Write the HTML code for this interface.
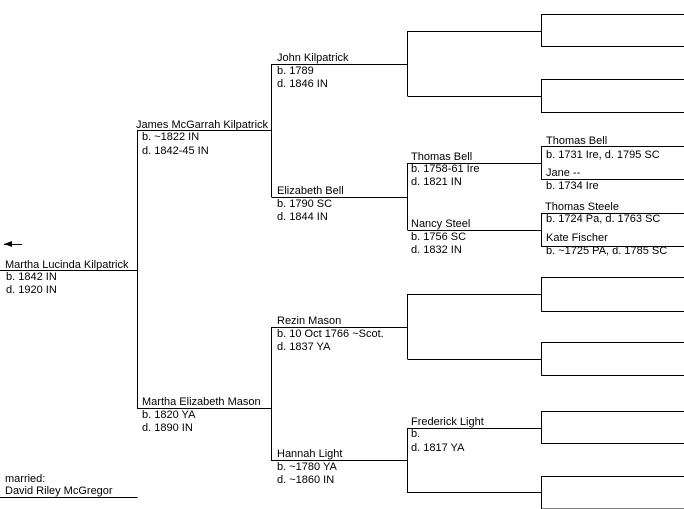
<!DOCTYPE html>
<html><head><meta charset="utf-8"><style>
html,body{margin:0;padding:0;background:#fff;width:684px;height:509px;overflow:hidden}
svg{display:block}
text{font-family:"Liberation Sans",sans-serif;font-size:11px;fill:#000}
</style></head><body>
<svg width="684" height="509" viewBox="0 0 684 509" xmlns="http://www.w3.org/2000/svg">
<g stroke="#000" stroke-width="1" fill="none" shape-rendering="crispEdges">
<path d="M0 270.5H137.5M137.5 130V409M137.5 130.5H271.5M137.5 408.5H271.5"/>
<path d="M271.5 64V197M271.5 327V461"/>
<path d="M271.5 64.5H407.5M271.5 197.5H407.5M271.5 327.5H407.5M271.5 460.5H407.5"/>
<path d="M407.5 31V96M407.5 163V230M407.5 294V359M407.5 428V493"/>
<path d="M407.5 31.5H541.5M407.5 96.5H541.5M407.5 163.5H541.5M407.5 230.5H541.5M407.5 294.5H541.5M407.5 359.5H541.5M407.5 428.5H541.5M407.5 492.5H541.5"/>
<path d="M684 14.5H541.5V46.5H684M684 79.5H541.5V112.5H684M684 146.5H541.5V179.5H684M684 213.5H541.5V246.5H684M684 277.5H541.5V311.5H684M684 342.5H541.5V375.5H684M684 411.5H541.5V443.5H684M684 476.5H541.5V509H684"/>
<path d="M0 497.5H137.5"/>
</g>
<path d="M4 244 L12 241 L12 247 Z" fill="#000"/>
<line x1="4" y1="244.5" x2="22" y2="244.5" stroke="#000"/>

<text x="5" y="268">Martha Lucinda Kilpatrick</text>
<text x="6" y="280">b. 1842 IN</text>
<text x="6" y="293">d. 1920 IN</text>

<text x="136" y="128">James McGarrah Kilpatrick</text>
<text x="142" y="140">b. ~1822 IN</text>
<text x="142" y="154">d. 1842-45 IN</text>

<text x="142" y="405">Martha Elizabeth Mason</text>
<text x="142" y="418">b. 1820 YA</text>
<text x="142" y="431">d. 1890 IN</text>

<text x="277" y="61">John Kilpatrick</text>
<text x="277" y="74">b. 1789</text>
<text x="277" y="87">d. 1846 IN</text>

<text x="277" y="194">Elizabeth Bell</text>
<text x="277" y="207">b. 1790 SC</text>
<text x="277" y="220">d. 1844 IN</text>

<text x="277" y="324">Rezin Mason</text>
<text x="277" y="337">b. 10 Oct 1766 ~Scot.</text>
<text x="277" y="350">d. 1837 YA</text>

<text x="277" y="457">Hannah Light</text>
<text x="277" y="470">b. ~1780 YA</text>
<text x="277" y="483">d. ~1860 IN</text>

<text x="411" y="160">Thomas Bell</text>
<text x="411" y="172">b. 1758-61 Ire</text>
<text x="411" y="185">d. 1821 IN</text>

<text x="411" y="227">Nancy Steel</text>
<text x="411" y="240">b. 1756 SC</text>
<text x="411" y="253">d. 1832 IN</text>

<text x="411" y="425">Frederick Light</text>
<text x="411" y="437">b.</text>
<text x="411" y="451">d. 1817 YA</text>

<text x="546" y="144">Thomas Bell</text>
<text x="546" y="158">b. 1731 Ire, d. 1795 SC</text>
<text x="546" y="176">Jane --</text>
<text x="546" y="189">b. 1734 Ire</text>

<text x="545" y="210">Thomas Steele</text>
<text x="546" y="222">b. 1724 Pa, d. 1763 SC</text>
<text x="546" y="241">Kate Fischer</text>
<text x="546" y="254">b. ~1725 PA, d. 1785 SC</text>

<text x="5" y="482">married:</text>
<text x="5" y="494">David Riley McGregor</text>
</svg>
</body></html>
